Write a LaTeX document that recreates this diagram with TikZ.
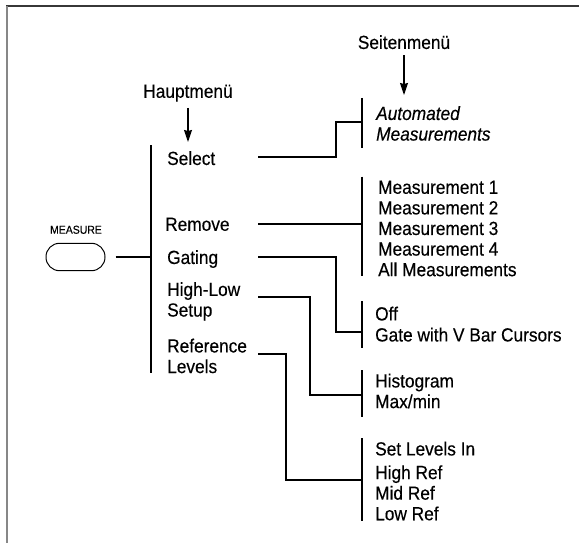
\documentclass[tikz,border=0pt]{standalone}
\usepackage{fontspec}
\setmainfont{Liberation Sans}[FakeStretch=0.91, FakeBold=0.3]
\usetikzlibrary{arrows.meta}
\definecolor{framedark}{RGB}{55,55,55}
\definecolor{framegray}{RGB}{135,135,135}

\begin{document}
\begin{tikzpicture}[x=1pt, y=-1pt,
  item/.style={anchor=north west, inner sep=0pt, align=left,
               font=\fontsize{19}{20.6}\selectfont},
  head/.style={anchor=north, inner sep=0pt, font=\fontsize{19}{20.6}\selectfont},
  conn/.style={line width=2pt},
  bar/.style={line width=2pt},
  pointer/.style={-{Stealth[length=12pt, width=8pt, inset=1pt]}, line width=1.2pt}
]
\useasboundingbox (0,0) rectangle (579,543);
% frame
\draw[framedark, line width=1.6pt] (6,6) -- (579,6);
\draw[framegray, line width=2pt] (6.5,6) -- (6.5,543);

% front panel button
\node[font=\fontsize{11.5}{13}\selectfont, anchor=north, inner sep=0pt] (mlabel) at (76,225.5) {MEASURE};
\node[draw, line width=1pt, minimum width=59pt, minimum height=27.4pt,
      rounded corners=13.5pt, inner sep=0pt] (btn) at (75.5,257) {};

% main menu
\node[head] (haupt) at (188,84.5) {Hauptmenü};
\coordinate (hauptTip) at (188,142);
\draw[pointer] ([yshift=-6pt]haupt.south) -- (hauptTip);
\coordinate (hub) at (151,257);
\draw[bar] (151,145.4) -- (151,373);
\draw[conn] ([xshift=10pt]btn.east) -- (hub);

\node[item] (sel)  at (167,151)   {Select};
\node[item] (rem)  at (165,217.5) {Remove};
\node[item] (gat)  at (167,250)   {Gating};
\node[item] (hilo) at (167,282)   {High-Low\\Setup};
\node[item] (ref)  at (167,338.5) {Reference\\Levels};

% side menu
\node[head] (seite) at (404,35) {Seitenmenü};
\coordinate (seiteTip) at (404,95);
\draw[pointer] ([yshift=-6pt]seite.south) -- (seiteTip);

\node[item] (auto) at (376,106)   {\itshape Automated\\\itshape Measurements};
\node[item] (meas) at (378,180.5) {Measurement 1\\Measurement 2\\Measurement 3\\Measurement 4\\All Measurements};
\node[item, font=\fontsize{19}{21}\selectfont] (gate) at (375,306.5) {Off\\Gate with V Bar Cursors};
\node[item] (hist) at (375,373.5) {Histogram\\Max/min};
\node[item] (lvl)  at (375,441.5) {Set Levels In\\[3pt]High Ref\\Mid Ref\\Low Ref};

\draw[bar] (362,98)  -- (362,148);
\draw[bar] (362,176.6) -- (362,276);
\draw[bar] (362,301) -- (362,348);
\draw[bar] (362,370) -- (362,417);
\draw[bar] (362,438) -- (362,521);

% connectors
\coordinate (selOut)  at (258,156.5);
\coordinate (remOut)  at (258,224.4);
\coordinate (gatOut)  at (258,257);
\coordinate (hiloOut) at (258,296.7);
\coordinate (refOut)  at (258,354);
\coordinate (autoIn)  at (362,122);
\coordinate (measIn)  at (362,224.4);
\coordinate (gateIn)  at (362,332.4);
\coordinate (histIn)  at (362,394.7);
\coordinate (lvlIn)   at (362,480);

\draw[conn] (selOut) -- ++(78,0) |- (autoIn);
\draw[conn] (remOut) -- (measIn);
\draw[conn] (gatOut) -- ++(78,0) |- (gateIn);
\draw[conn] (hiloOut) -- ++(52,0) |- (histIn);
\draw[conn] (refOut) -- ++(27.5,0) |- (lvlIn);
\end{tikzpicture}
\end{document}
